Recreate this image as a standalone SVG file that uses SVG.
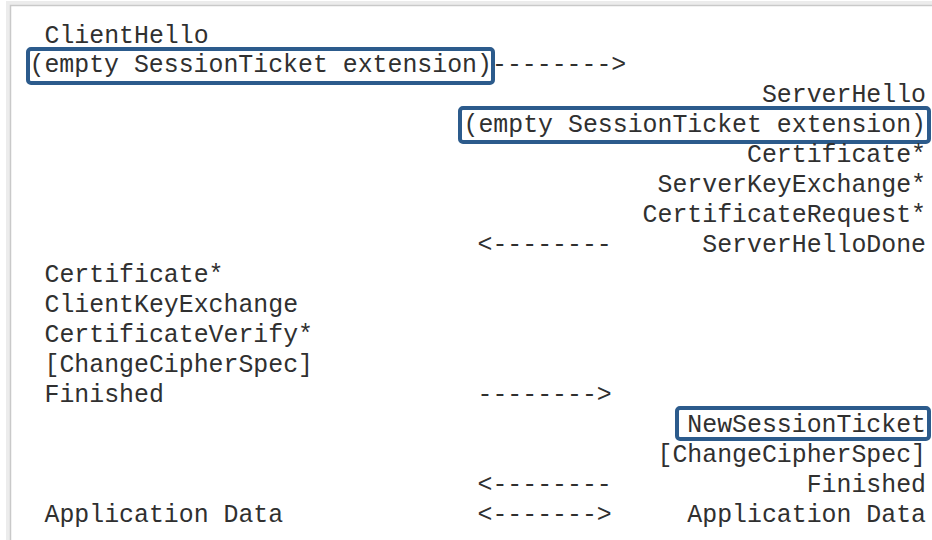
<svg xmlns="http://www.w3.org/2000/svg" width="932" height="540" viewBox="0 0 932 540">
<style>
  text { font-family: "Liberation Mono", "Courier New", monospace; font-size: 24.87px; fill: #303030; }
  .r { text-anchor: end; }
  .box { fill: none; stroke: #2c5b8c; stroke-width: 4; }
  .frame { stroke: #c9c9c9; stroke-width: 1.5; fill: none; }
  .shadow { stroke: #ececec; stroke-width: 4; fill: none; }
</style>
<rect width="932" height="540" fill="#ffffff"/>
<g id="frame">
  <path class="shadow" d="M8 540 V3 H932"/>
  <path class="frame" d="M10.5 540 V5.5 H932"/>
</g>
<g id="highlights">
  <rect class="box" x="28" y="49" width="465" height="34" rx="3"/>
  <rect class="box" x="460" y="108" width="469" height="34" rx="3"/>
  <rect class="box" x="677" y="408" width="252" height="31" rx="3"/>
</g>
<g id="client">
  <g id="c-clienthello"><text x="44.5" y="42.5">ClientHello</text></g>
  <g id="c-ext"><text x="29.5" y="72.4">(empty SessionTicket extension)</text></g>
  <g id="c-certificate"><text x="44.5" y="282">Certificate*</text></g>
  <g id="c-cke"><text x="44.5" y="312">ClientKeyExchange</text></g>
  <g id="c-cv"><text x="44.5" y="341.9">CertificateVerify*</text></g>
  <g id="c-ccs"><text x="44.5" y="371.8">[ChangeCipherSpec]</text></g>
  <g id="c-finished"><text x="44.5" y="401.8">Finished</text></g>
  <g id="c-appdata"><text x="44.5" y="521.5">Application Data</text></g>
</g>
<g id="server">
  <g id="s-serverhello"><text class="r" x="926" y="102.4">ServerHello</text></g>
  <g id="s-ext"><text class="r" x="926" y="132.3">(empty SessionTicket extension)</text></g>
  <g id="s-certificate"><text class="r" x="926" y="162.3">Certificate*</text></g>
  <g id="s-ske"><text class="r" x="926" y="192.2">ServerKeyExchange*</text></g>
  <g id="s-cr"><text class="r" x="926" y="222.1">CertificateRequest*</text></g>
  <g id="s-shd"><text class="r" x="926" y="252.1">ServerHelloDone</text></g>
  <g id="s-nst"><text class="r" x="926" y="431.7">NewSessionTicket</text></g>
  <g id="s-ccs"><text class="r" x="926" y="461.7">[ChangeCipherSpec]</text></g>
  <g id="s-finished"><text class="r" x="926" y="491.6">Finished</text></g>
  <g id="s-appdata"><text class="r" x="926" y="521.5">Application Data</text></g>
</g>
<g id="connectors">
  <text x="492" y="72.4">--------&gt;</text>
  <text x="477.5" y="252.1">&lt;--------</text>
  <text x="477.5" y="401.8">--------&gt;</text>
  <text x="477.5" y="491.6">&lt;--------</text>
  <text x="477.5" y="521.5">&lt;-------&gt;</text>
</g>
</svg>
